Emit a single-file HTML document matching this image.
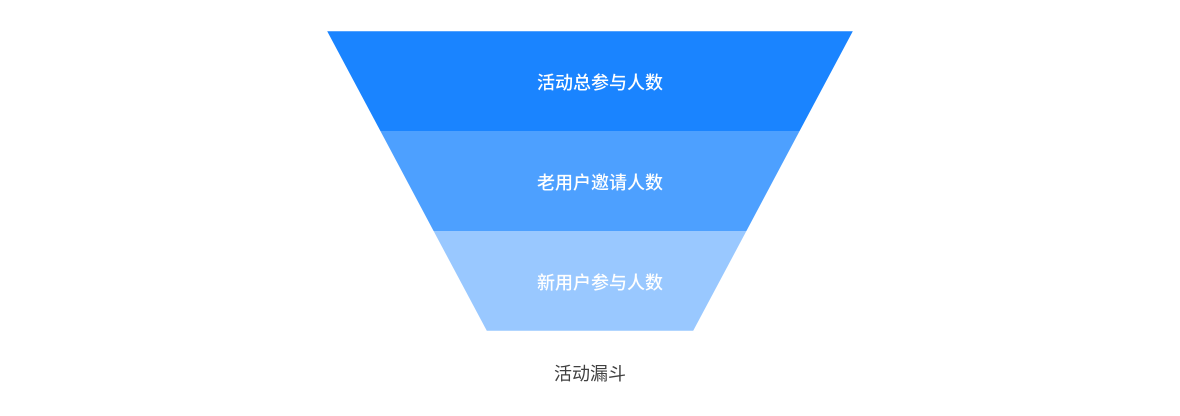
<!DOCTYPE html>
<html lang="zh">
<head>
<meta charset="utf-8">
<style>
html,body{margin:0;padding:0;background:#fff;width:1180px;height:416px;overflow:hidden}
svg{display:block}
text{font-family:"Liberation Sans","Noto Sans CJK SC",sans-serif;font-size:18px;text-anchor:middle}
.w{font-weight:500}
</style>
</head>
<body>
<svg width="1180" height="416" viewBox="0 0 1180 416" xmlns="http://www.w3.org/2000/svg">
<polygon points="327.2,31.2 852.8,31.2 799.6,131 380.4,131" fill="#1a84ff"/>
<polygon points="380.4,131 799.6,131 746.4,231 433.6,231" fill="#4da0ff"/>
<polygon points="433.6,231 746.4,231 693.2,330.8 486.8,330.8" fill="#99c8ff"/>
<text class="w" x="600" y="89" fill="#fff">活动总参与人数</text>
<text class="w" x="600" y="189" fill="#fff">老用户邀请人数</text>
<text class="w" x="600" y="289" fill="#fff">新用户参与人数</text>
<text x="590" y="380" fill="#404040">活动漏斗</text>
</svg>
</body>
</html>
